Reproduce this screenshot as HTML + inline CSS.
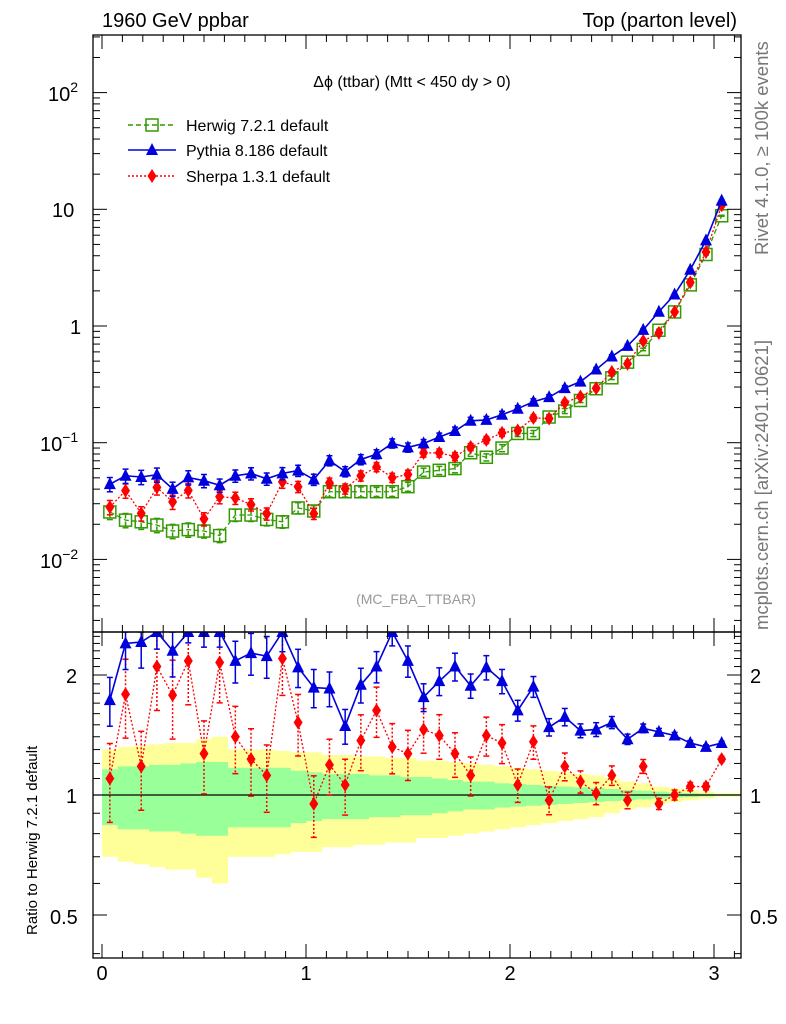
<!DOCTYPE html>
<html><head><meta charset="utf-8"><style>
body{margin:0;background:#fff;}
svg{display:block;font-family:"Liberation Sans",sans-serif;}
</style></head><body>
<svg id="c" width="786" height="1024"></svg>
<script>
const NB = 40;
const binWidth = 0.0769;
const herwig = [0.0255,0.0217,0.021,0.0197,0.0175,0.018,0.0175,0.016,0.024,0.024,0.022,0.021,0.0276,0.026,0.038,0.038,0.038,0.038,0.038,0.042,0.056,0.058,0.06,0.082,0.075,0.09,0.12,0.12,0.166,0.187,0.23,0.29,0.36,0.49,0.63,0.92,1.32,2.25,4.1,8.8];
const pythiaRatio = [1.73,2.4,2.42,2.7,2.3,2.8,2.7,2.7,2.17,2.27,2.23,2.6,2.09,1.86,1.85,1.49,1.89,2.1,2.6,2.17,1.76,1.93,2.1,1.88,2.09,1.93,1.63,1.87,1.48,1.57,1.45,1.46,1.52,1.38,1.47,1.44,1.41,1.35,1.32,1.35];
const sherpaRatio = [1.10,1.79,1.18,2.1,1.78,2.17,1.27,2.15,1.40,1.23,1.12,2.2,1.52,0.95,1.19,1.06,1.37,1.63,1.32,1.27,1.46,1.41,1.27,1.12,1.41,1.35,1.06,1.36,0.97,1.18,1.08,1.01,1.12,0.97,1.18,0.95,1.0,1.05,1.05,1.23];
const statErr = [0.16,0.18,0.18,0.19,0.19,0.20,0.21,0.21,0.17,0.17,0.17,0.17,0.15,0.14,0.13,0.13,0.13,0.12,0.12,0.11,0.11,0.10,0.09,0.08,0.08,0.07,0.065,0.06,0.055,0.05,0.045,0.04,0.035,0.03,0.025,0.02,0.015,0.012,0.008,0.005];
const totErr = [0.30,0.32,0.33,0.34,0.35,0.35,0.38,0.40,0.30,0.30,0.30,0.29,0.28,0.28,0.26,0.26,0.25,0.25,0.24,0.24,0.22,0.22,0.21,0.20,0.19,0.18,0.17,0.16,0.15,0.14,0.13,0.12,0.10,0.08,0.07,0.05,0.04,0.03,0.02,0.01];
const mcErr = [0.14,0.14,0.14,0.14,0.14,0.14,0.13,0.13,0.12,0.12,0.12,0.12,0.11,0.11,0.10,0.10,0.10,0.09,0.09,0.09,0.08,0.08,0.08,0.07,0.07,0.07,0.06,0.06,0.05,0.05,0.04,0.04,0.035,0.03,0.025,0.02,0.018,0.015,0.012,0.01];
const xTicks = [0,1,2,3];

const svg = document.getElementById('c');
const NS = 'http://www.w3.org/2000/svg';
function el(tag, attrs, parent){const e=document.createElementNS(NS,tag);for(const k in attrs)e.setAttribute(k,attrs[k]);(parent||svg).appendChild(e);return e;}
const X0=93,X1=741,T=35,MID=632,B=958;
const xs = v => 102 + v*204;
const ym = v => 326 - 116.7*Math.log10(v);
const yr = r => Math.max(MID, Math.min(B, 795 - 120*Math.log2(r)));
const bw = binWidth;
const cx = i => xs((i+0.5)*bw);

const defs = el('defs',{});
const cp1 = el('clipPath',{id:'cm'},defs); el('rect',{x:X0,y:T,width:X1-X0,height:MID-T},cp1);
const cp2 = el('clipPath',{id:'cr'},defs); el('rect',{x:X0,y:MID,width:X1-X0,height:B-MID},cp2);

const gBand = el('g',{'clip-path':'url(#cr)'});


for(let i=0;i<NB;i++){
  const x=xs(i*bw), w=(i===NB-1? X1-x : xs((i+1)*bw)-x+0.5);
  const r1=el('rect',{x:x,y:yr(1+totErr[i]),width:w,height:yr(1-totErr[i])-yr(1+totErr[i]),fill:'#ffff99'},gBand);
  
  
}
for(let i=0;i<NB;i++){
  const x=xs(i*bw), w=(i===NB-1? X1-x : xs((i+1)*bw)-x+0.5);
  const r2=el('rect',{x:x,y:yr(1+statErr[i]),width:w,height:yr(1-statErr[i])-yr(1+statErr[i]),fill:'#99ff99'},gBand);
  
  
}
el('line',{x1:X0,x2:X1,y1:795,y2:795,stroke:'#000','stroke-width':1.3});

function marker(kind,x,y,g){
  if(kind==='tri') return el('polygon',{points:`${x},${y-7} ${x-6},${y+5} ${x+6},${y+5}`,fill:'#0000dd'},g);
  if(kind==='dia') return el('polygon',{points:`${x},${y-7} ${x-4.5},${y} ${x},${y+7} ${x+4.5},${y}`,fill:'#ff0000'},g);
  return el('rect',{x:x-6,y:y-6,width:12,height:12,fill:'none',stroke:'#339900','stroke-width':1.5},g);
}
function series(name,vals,err,kind,color,dash,yf,clip){
  const g=el('g',{'clip-path':`url(#${clip})`});
  
  
  const pts=vals.map((v,i)=>cx(i)+','+yf(v)).join(' ');
  el('polyline',{points:pts,fill:'none',stroke:color,'stroke-width':kind==='tri'?1.6:1.3,'stroke-dasharray':dash},g);
  vals.forEach((v,i)=>{
    const x=cx(i);
    el('line',{x1:x,x2:x,y1:yf(v*(1+err[i])),y2:yf(v*(1-err[i])),stroke:color,'stroke-width':1.5,'stroke-dasharray':dash},g);
    el('line',{x1:x-3,x2:x+3,y1:yf(v*(1+err[i])),y2:yf(v*(1+err[i])),stroke:color,'stroke-width':1.5},g);
    el('line',{x1:x-3,x2:x+3,y1:yf(v*(1-err[i])),y2:yf(v*(1-err[i])),stroke:color,'stroke-width':1.5},g);
    const m=marker(kind,x,yf(v),g);
    
    
  });
}
const pythia = herwig.map((v,i)=>v*pythiaRatio[i]);
const sherpa = herwig.map((v,i)=>v*sherpaRatio[i]);
series('herwig-main',herwig,mcErr,'sq','#339900','5,3',ym,'cm');
series('sherpa-main',sherpa,mcErr,'dia','#ff0000','2,2',ym,'cm');
series('pythia-main',pythia,mcErr,'tri','#0000dd','',ym,'cm');
series('sherpa-ratio',sherpaRatio,mcErr.map(e=>e*1.6),'dia','#ff0000','2,2',yr,'cr');
series('pythia-ratio',pythiaRatio,mcErr,'tri','#0000dd','',yr,'cr');

el('rect',{x:X0,y:T,width:X1-X0,height:MID-T,fill:'none',stroke:'#000','stroke-width':1.3});
el('rect',{x:X0,y:MID,width:X1-X0,height:B-MID,fill:'none',stroke:'#000','stroke-width':1.3});

const tg=el('g',{});


for(let d=-3;d<=2;d++){
  for(let m=1;m<10;m++){
    const y=ym(m*Math.pow(10,d)); if(y<T||y>MID) continue;
    const L=m===1?14:7;
    el('line',{x1:X0,x2:X0+L,y1:y,y2:y,stroke:'#000'},tg);
    el('line',{x1:X1,x2:X1-L,y1:y,y2:y,stroke:'#000'},tg);
  }
}
[0.4,0.5,0.6,0.7,0.8,0.9,1,1.1,1.2,1.3,1.4,1.5,1.6,1.7,1.8,1.9,2,2.1,2.2,2.3,2.4,2.5].forEach(r=>{
  const y=795-120*Math.log2(r); if(y<MID||y>B) return;
  const L=(r===0.5||r===1||r===2)?14:7;
  el('line',{x1:X0,x2:X0+L,y1:y,y2:y,stroke:'#000'},tg);
  el('line',{x1:X1,x2:X1-L,y1:y,y2:y,stroke:'#000'},tg);
});
for(let k=0;k<=31;k++){
  const v=k/10, x=xs(v); if(x>X1) continue;
  const L=k%10===0?14:7;
  [T,MID].forEach(y=>el('line',{x1:x,x2:x,y1:y,y2:y+L,stroke:'#000'},tg));
  [MID,B].forEach(y=>el('line',{x1:x,x2:x,y1:y,y2:y-L,stroke:'#000'},tg));
}
xTicks.forEach(v=>{
  const t=el('text',{x:xs(v),y:980,'font-size':20,'text-anchor':'middle'});
  t.textContent=v;
  
  
});
function txt(s,x,y,size,attrs,name){const t=el('text',Object.assign({x:x,y:y,'font-size':size},attrs||{}));t.innerHTML=s;return t;}
txt('10<tspan dy="-9" font-size="14">2</tspan>',48,101,20,{},'y-tick-label');
txt('10',52,217,20,{},'y-tick-label');
txt('1',70,334,20,{},'y-tick-label');
txt('10<tspan dy="-9" font-size="14">−1</tspan>',40,451,20,{},'y-tick-label');
txt('10<tspan dy="-9" font-size="14">−2</tspan>',40,568,20,{},'y-tick-label');
txt('2',66,683,20,{},'ratio-tick-label');
txt('1',66,803,20,{},'ratio-tick-label');
txt('0.5',50,924,20,{},'ratio-tick-label');
txt('2',750,683,20,{},'ratio-tick-label-right');
txt('1',750,803,20,{},'ratio-tick-label-right');
txt('0.5',750,924,20,{},'ratio-tick-label-right');
txt('1960 GeV ppbar',102,27,20,{},'beam-label');
txt('Top (parton level)',737,27,20,{'text-anchor':'end'},'process-label');
txt('Δϕ (ttbar) (Mtt &lt; 450 dy &gt; 0)',412,87,16,{'text-anchor':'middle'},'plot-title');
txt('(MC_FBA_TTBAR)',416,604,14,{'text-anchor':'middle',fill:'#999'},'analysis-name');
txt('Rivet 4.1.0, ≥ 100k events',768,255,18.5,{fill:'#777',transform:'rotate(-90 768 255)'},'rivet-label');
txt('mcplots.cern.ch [arXiv:2401.10621]',768,630,18.5,{fill:'#777',transform:'rotate(-90 768 630)'},'mcplots-label');
txt('Ratio to Herwig 7.2.1 default',37,935,15,{transform:'rotate(-90 37 935)'},'ratio-y-axis-title');

const leg=[['Herwig 7.2.1 default','sq','#339900','5,3',125],['Pythia 8.186 default','tri','#0000dd','',150],['Sherpa 1.3.1 default','dia','#ff0000','2,2',176]];
leg.forEach(l=>{
  const g=el('g',{});
  
  
  el('line',{x1:128,x2:176,y1:l[4],y2:l[4],stroke:l[2],'stroke-width':1.4,'stroke-dasharray':l[3]},g);
  marker(l[1],152,l[4],g);
  const t=el('text',{x:186,y:l[4]+6,'font-size':16},g);t.textContent=l[0];
});
</script>
</body></html>
